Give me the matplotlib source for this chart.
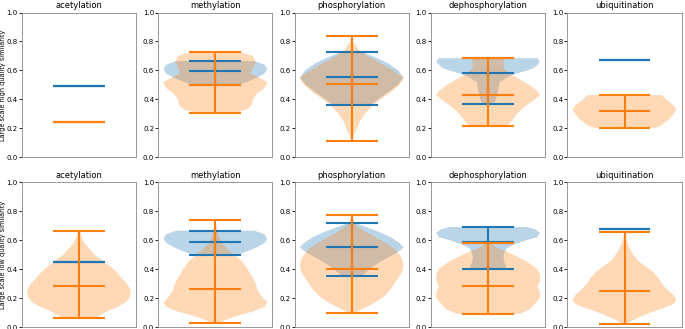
import matplotlib
matplotlib.use("Agg")
import matplotlib.pyplot as plt
import numpy as np

ptms = ["acetylation", "methylation", "phosphorylation", "dephosphorylation", "ubiquitination"]
row_labels = ["Large scale high quality similarity", "Large scale low quality similarity"]

# ---------------- high quality : blue ----------------
high_blue_min = [0.49, 0.50, 0.36, 0.37, 0.675]
high_blue_mean = [0.49, 0.595, 0.555, 0.58, 0.675]
high_blue_max = [0.49, 0.665, 0.725, 0.685, 0.675]
high_blue_coords = [
    [0.49],
    [0.50, 0.52, 0.55, 0.58, 0.61, 0.64, 0.665],
    [0.36, 0.40, 0.45, 0.50, 0.55, 0.60, 0.65, 0.70, 0.725],
    [0.37, 0.40, 0.44, 0.48, 0.52, 0.55, 0.58, 0.60, 0.62, 0.66, 0.685],
    [0.675],
]
high_blue_width = [
    [1.0],
    [0.45, 0.6, 0.8, 0.95, 1.0, 0.95, 0.75],
    [0.35, 0.5, 0.7, 0.88, 1.0, 0.9, 0.7, 0.4, 0.2],
    [0.12, 0.15, 0.18, 0.2, 0.22, 0.35, 0.55, 0.75, 0.9, 1.0, 0.95],
    [1.0],
]
# ---------------- high quality : orange ----------------
high_orange_min = [0.245, 0.305, 0.115, 0.215, 0.205]
high_orange_mean = [0.245, 0.50, 0.51, 0.43, 0.32]
high_orange_max = [0.245, 0.73, 0.84, 0.685, 0.43]
high_orange_coords = [
    [0.245],
    [0.305, 0.33, 0.36, 0.40, 0.44, 0.48, 0.52, 0.55, 0.58, 0.62, 0.66, 0.70, 0.73],
    [0.115, 0.15, 0.20, 0.25, 0.30, 0.35, 0.40, 0.45, 0.50, 0.55, 0.60, 0.65, 0.70, 0.75, 0.80, 0.84],
    [0.215, 0.25, 0.30, 0.35, 0.40, 0.43, 0.45, 0.50, 0.55, 0.58, 0.62, 0.67, 0.685],
    [0.205, 0.22, 0.26, 0.30, 0.33, 0.36, 0.40, 0.43],
]
high_orange_width = [
    [1.0],
    [0.35, 0.6, 0.7, 0.72, 0.8, 0.95, 1.0, 0.85, 0.68, 0.72, 0.78, 0.72, 0.45],
    [0.0, 0.04, 0.1, 0.16, 0.25, 0.38, 0.55, 0.75, 0.92, 1.0, 0.8, 0.55, 0.3, 0.12, 0.03, 0.0],
    [0.35, 0.45, 0.55, 0.7, 0.9, 1.0, 0.97, 0.8, 0.55, 0.4, 0.3, 0.3, 0.3],
    [0.6, 0.7, 0.85, 0.95, 1.0, 0.95, 0.8, 0.72],
]

# ---------------- low quality : blue ----------------
low_blue_min = [0.45, 0.50, 0.355, 0.40, 0.675]
low_blue_mean = [0.45, 0.59, 0.555, 0.59, 0.675]
low_blue_max = [0.45, 0.665, 0.72, 0.69, 0.675]
low_blue_coords = [
    [0.45],
    [0.50, 0.52, 0.55, 0.58, 0.61, 0.64, 0.665],
    [0.355, 0.38, 0.40, 0.44, 0.48, 0.52, 0.55, 0.58, 0.62, 0.66, 0.70, 0.72],
    [0.40, 0.43, 0.46, 0.50, 0.54, 0.57, 0.60, 0.62, 0.65, 0.675, 0.69],
    [0.675],
]
low_blue_width = [
    [1.0],
    [0.45, 0.6, 0.8, 0.95, 1.0, 0.95, 0.75],
    [0.2, 0.28, 0.35, 0.5, 0.7, 0.9, 1.0, 0.92, 0.75, 0.5, 0.2, 0.05],
    [0.35, 0.33, 0.3, 0.3, 0.35, 0.5, 0.75, 0.95, 1.0, 0.9, 0.75],
    [1.0],
]
# ---------------- low quality : orange ----------------
low_orange_min = [0.06, 0.025, 0.095, 0.09, 0.02]
low_orange_mean = [0.28, 0.265, 0.40, 0.285, 0.25]
low_orange_max = [0.665, 0.74, 0.775, 0.578, 0.655]
low_orange_coords = [
    [0.06, 0.08, 0.11, 0.14, 0.17, 0.20, 0.23, 0.26, 0.30, 0.34, 0.38, 0.42, 0.46, 0.50, 0.54, 0.58, 0.62, 0.665],
    [0.025, 0.05, 0.08, 0.11, 0.14, 0.17, 0.20, 0.25, 0.30, 0.35, 0.40, 0.45, 0.50, 0.54, 0.58, 0.62, 0.66, 0.70, 0.74],
    [0.095, 0.11, 0.14, 0.18, 0.22, 0.26, 0.30, 0.34, 0.38, 0.42, 0.46, 0.50, 0.54, 0.58, 0.62, 0.66, 0.70, 0.74, 0.775],
    [0.09, 0.12, 0.16, 0.20, 0.24, 0.28, 0.32, 0.36, 0.40, 0.44, 0.48, 0.52, 0.55, 0.578],
    [0.02, 0.04, 0.07, 0.10, 0.13, 0.16, 0.19, 0.22, 0.26, 0.30, 0.34, 0.38, 0.42, 0.46, 0.50, 0.54, 0.58, 0.62, 0.655],
]
low_orange_width = [
    [0.3, 0.4, 0.55, 0.75, 0.9, 0.97, 1.0, 0.99, 0.92, 0.82, 0.72, 0.6, 0.45, 0.3, 0.2, 0.1, 0.05, 0.02],
    [0.05, 0.2, 0.45, 0.75, 0.95, 1.0, 0.92, 0.82, 0.78, 0.7, 0.62, 0.52, 0.37, 0.22, 0.13, 0.07, 0.04, 0.02, 0.0],
    [0.03, 0.12, 0.3, 0.5, 0.65, 0.75, 0.82, 0.9, 0.97, 1.0, 0.98, 0.92, 0.82, 0.65, 0.45, 0.25, 0.1, 0.03, 0.0],
    [0.6, 0.8, 0.9, 1.0, 1.0, 0.95, 1.0, 1.0, 0.95, 0.8, 0.6, 0.35, 0.15, 0.05],
    [0.02, 0.12, 0.3, 0.5, 0.75, 0.95, 1.0, 0.95, 0.82, 0.72, 0.65, 0.55, 0.4, 0.25, 0.17, 0.1, 0.05, 0.02, 0.0],
]

rows = [
    (high_blue_min, high_blue_mean, high_blue_max, high_blue_coords, high_blue_width,
     high_orange_min, high_orange_mean, high_orange_max, high_orange_coords, high_orange_width),
    (low_blue_min, low_blue_mean, low_blue_max, low_blue_coords, low_blue_width,
     low_orange_min, low_orange_mean, low_orange_max, low_orange_coords, low_orange_width),
]


def make_stats(mn, mean, mx, coords, widths):
    return [dict(coords=np.array(coords), vals=np.array(widths, dtype=float),
                 mean=mean, median=mean, min=mn, max=mx)]


fig, axes = plt.subplots(2, 5, figsize=(6.85, 3.29), dpi=100)
fig.subplots_adjust(left=0.032, right=0.995, top=0.962, bottom=0.006, wspace=0.195, hspace=0.17)

for r, row in enumerate(rows):
    bmin, bmean, bmax, bco, bw, omin, omean, omax, oco, ow = row
    for c in range(5):
        ax = axes[r, c]
        ax.violin(make_stats(bmin[c], bmean[c], bmax[c], bco[c], bw[c]),
                  positions=[1], showmeans=True, showextrema=True, showmedians=False)
        ax.violin(make_stats(omin[c], omean[c], omax[c], oco[c], ow[c]),
                  positions=[1], showmeans=True, showextrema=True, showmedians=False)
        ax.set_xlim(0.725, 1.275)
        ax.set_ylim(0, 1.0)
        ax.set_xticks([])
        ax.set_yticks([0, 0.2, 0.4, 0.6, 0.8, 1.0])
        ax.tick_params(axis='y', labelsize=5, length=2, width=0.6, pad=1)
        for s in ax.spines.values():
            s.set_linewidth(0.6)
            s.set_color('#888888')
        ax.set_title(ptms[c], fontsize=6, pad=3)
        if c == 0:
            ax.set_ylabel(row_labels[r], fontsize=4.7, labelpad=0.5)

fig.savefig("out.png", dpi=100)
